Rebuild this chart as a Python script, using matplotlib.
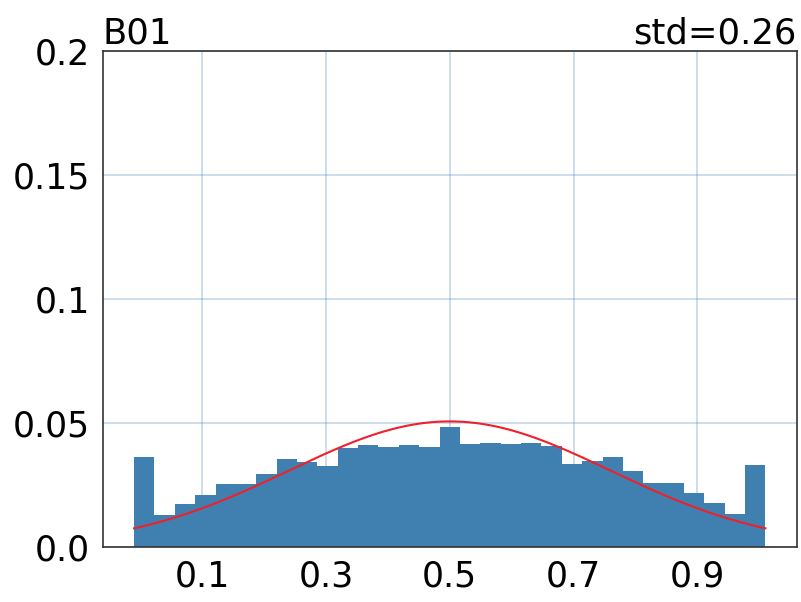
import numpy as np
import matplotlib
matplotlib.use('Agg')
import matplotlib.pyplot as plt

# bar heights (fraction of samples per bin)
alturas = [0.0360, 0.0128, 0.0172, 0.0208, 0.0252, 0.0252, 0.0293, 0.0355,
           0.0340, 0.0325, 0.0399, 0.0410, 0.0403, 0.0410, 0.0403, 0.0484,
           0.0413, 0.0419, 0.0413, 0.0417, 0.0406, 0.0332, 0.0347, 0.0360,
           0.0305, 0.0258, 0.0258, 0.0215, 0.0177, 0.0132, 0.0329]
x_min, x_max = -0.01, 1.01
media = 0.5
desvio = 0.26
titulo = 'B01'
yticks = [0.0, 0.05, 0.1, 0.15, 0.2]
ytick_labels = ['0.0', '0.05', '0.1', '0.15', '0.2']
xticks = [0.1, 0.3, 0.5, 0.7, 0.9]
xtick_labels = ['0.1', '0.3', '0.5', '0.7', '0.9']

bordas = np.linspace(x_min, x_max, len(alturas) + 1)
largura = bordas[1] - bordas[0]

fig = plt.figure(figsize=(8.01, 6.02), dpi=100)
ax = fig.add_axes([0.128, 0.092, 0.867, 0.824])

ax.bar(bordas[:-1], alturas, width=largura, align='edge', color='#3f80b0',
       linewidth=0, zorder=2)

# curva normal escalada pela largura do bin
xs = np.linspace(x_min, x_max, 300)
pdf = np.exp(-0.5 * ((xs - media) / desvio) ** 2) / (desvio * np.sqrt(2 * np.pi))
ax.plot(xs, pdf * largura, color='#f0202a', linewidth=1.5, zorder=3)

ax.set_ylim(0, 0.2)
ax.set_yticks(yticks)
ax.set_yticklabels(ytick_labels)
ax.set_xticks(xticks)
ax.set_xticklabels(xtick_labels)
ax.tick_params(length=0, labelsize=25, pad=9)
ax.grid(True, color='#4682b4', alpha=0.35, linewidth=1.1, zorder=0)
ax.set_axisbelow(True)
for s in ax.spines.values():
    s.set_color('#333333')
    s.set_linewidth(1.2)

ax.set_title(titulo, loc='left', fontsize=25.5, pad=3)
ax.set_title(f'std={desvio:.2f}', loc='right', fontsize=25.5, pad=3)

plt.savefig('out.png', dpi=100)
plt.close()
